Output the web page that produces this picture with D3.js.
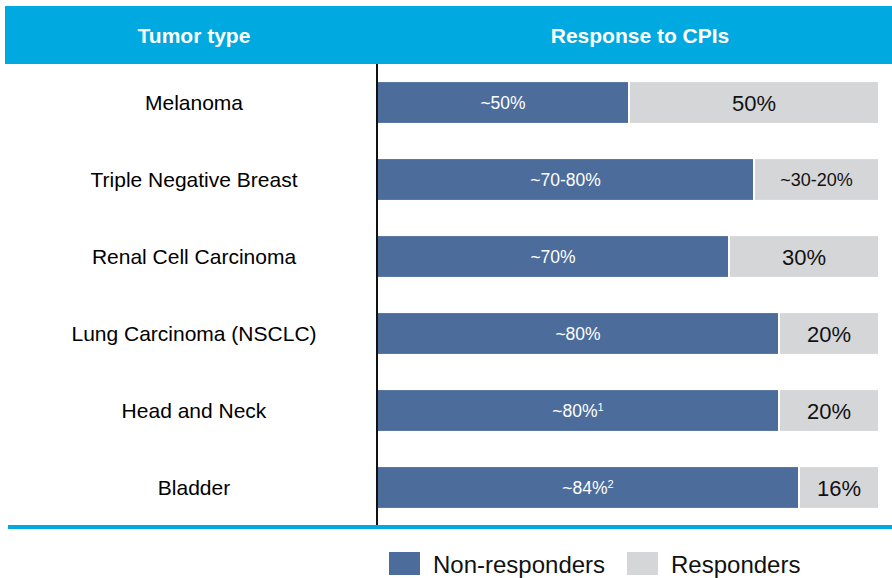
<!DOCTYPE html>
<html>
<head>
<meta charset="utf-8">
<script src="https://cdn.jsdelivr.net/npm/d3@7"></script>
<style>
  body { margin: 0; background: #fff; }
  svg { font-family: Arial, "Liberation Sans", sans-serif; }
</style>
</head>
<body>
<div id="chart"></div>
<script>
// data
let tumorTypes = ['Melanoma', 'Triple Negative Breast', 'Renal Cell Carcinoma',
    'Lung Carcinoma (NSCLC)', 'Head and Neck', 'Bladder'];
let nonResponders = [50, 75, 70, 80, 80, 84];
let nonLabels = ['~50%', '~70-80%', '~70%', '~80%', '~80%', '~84%'];
let nonNotes = ['', '', '', '', '1', '2'];
let respLabels = ['50%', '~30-20%', '30%', '20%', '20%', '16%'];
let headers = ['Tumor type', 'Response to CPIs'];
let legendItems = ['Non-responders', 'Responders'];

const blue = '#4c6c9b';
const grey = '#d5d6d8';
const cyan = '#00a9e0';

let width = 892, height = 578;
let svg = d3.select('#chart').append('svg')
    .attr('width', width)
    .attr('height', height);

let xScale = d3.scaleLinear().domain([0, 100]).range([378, 878]);
let yScale = d3.scaleBand().domain(tumorTypes).range([64, 526]).paddingInner(0.47).paddingOuter(0.235);

// header band
svg.append('rect')
    .attr('x', 5).attr('y', 6)
    .attr('width', width - 5).attr('height', 58)
    .attr('fill', cyan);

svg.selectAll('text.head').data(headers).enter()
    .append('text')
        .attr('class', 'head')
        .attr('x', (d, i) => i == 0 ? 194 : 640)
        .attr('y', 43)
        .attr('text-anchor', 'middle')
        .attr('fill', '#fff')
        .attr('font-weight', 'bold')
        .attr('font-size', 21)
        .text(d => d);

// non responders
svg.selectAll('rect.non').data(tumorTypes).enter()
    .append('rect')
        .attr('class', 'non')
        .attr('x', xScale(0))
        .attr('y', d => yScale(d))
        .attr('width', (d, i) => xScale(nonResponders[i]) - xScale(0))
        .attr('height', yScale.bandwidth())
        .attr('fill', blue);

// responders
svg.selectAll('rect.resp').data(tumorTypes).enter()
    .append('rect')
        .attr('class', 'resp')
        .attr('x', (d, i) => xScale(nonResponders[i]) + 2)
        .attr('y', d => yScale(d))
        .attr('width', (d, i) => xScale(100) - xScale(nonResponders[i]) - 2)
        .attr('height', yScale.bandwidth())
        .attr('fill', grey);

// labels inside blue
let nl = svg.selectAll('text.nl').data(tumorTypes).enter()
    .append('text')
        .attr('class', 'nl')
        .attr('x', (d, i) => (xScale(0) + xScale(nonResponders[i])) / 2)
        .attr('y', d => yScale(d) + yScale.bandwidth() / 2 + 6)
        .attr('text-anchor', 'middle')
        .attr('fill', '#fff')
        .attr('font-size', 17.5);
nl.append('tspan').text((d, i) => nonLabels[i]);
nl.append('tspan')
    .attr('font-size', 11)
    .attr('dy', -6)
    .text((d, i) => nonNotes[i]);

// labels inside grey
svg.selectAll('text.rl').data(tumorTypes).enter()
    .append('text')
        .attr('class', 'rl')
        .attr('x', (d, i) => (xScale(nonResponders[i]) + 2 + xScale(100)) / 2)
        .attr('y', (d, i) => yScale(d) + yScale.bandwidth() / 2 + (respLabels[i].length > 4 ? 6 : 8))
        .attr('text-anchor', 'middle')
        .attr('fill', '#111')
        .attr('font-size', (d, i) => respLabels[i].length > 4 ? 18 : 22)
        .text((d, i) => respLabels[i]);

// category labels
svg.selectAll('text.cat').data(tumorTypes).enter()
    .append('text')
        .attr('class', 'cat')
        .attr('x', 194)
        .attr('y', d => yScale(d) + yScale.bandwidth() / 2 + 7)
        .attr('text-anchor', 'middle')
        .attr('fill', '#000')
        .attr('font-size', 21)
        .text(d => d);

// axis line
svg.append('line')
    .attr('x1', 377).attr('x2', 377)
    .attr('y1', 64).attr('y2', 526)
    .attr('stroke', '#111')
    .attr('stroke-width', 2);

// bottom rule
svg.append('rect')
    .attr('x', 8).attr('y', 525)
    .attr('width', width - 8).attr('height', 4)
    .attr('fill', cyan);

// legend
let legendX = [389, 627];
let leg = svg.selectAll('g.leg').data(legendItems).enter()
    .append('g')
        .attr('class', 'leg')
        .attr('transform', (d, i) => `translate(${legendX[i]},552)`);
leg.append('rect')
    .attr('width', 31).attr('height', 23)
    .attr('fill', (d, i) => i == 0 ? blue : grey);
leg.append('text')
    .attr('x', 44).attr('y', 21)
    .attr('font-size', 24)
    .attr('fill', '#111')
    .text(d => d);
</script>
</body>
</html>
